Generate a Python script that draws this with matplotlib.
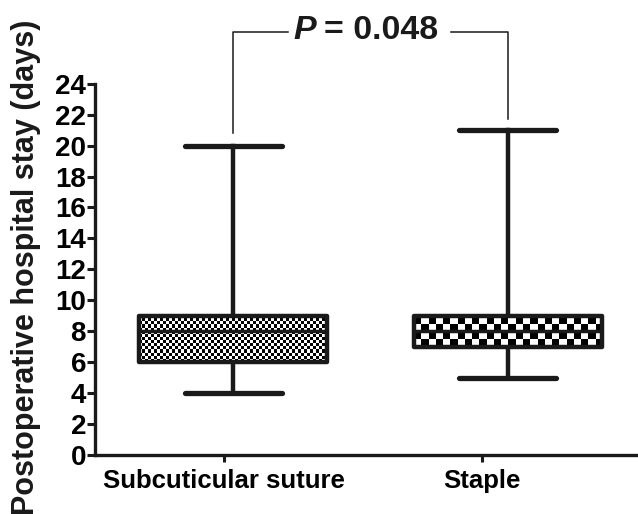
import matplotlib.pyplot as plt
import numpy as np

# Box plot summary values (days)
groups = ["Subcuticular suture", "Staple"]
q1 = [6, 7]
median = [8, 8]
q3 = [9, 9]
whisker_low = [4, 5]
whisker_high = [20, 21]
p_label = "0.048"
yticks = list(range(0, 25, 2))

plt.rcParams["font.family"] = ["Liberation Sans", "DejaVu Sans"]
plt.rcParams["font.weight"] = "bold"
ink = "#1a1a1a"

fig = plt.figure(figsize=(6.38, 5.14), dpi=100)
ax = fig.add_axes([0.149, 0.115, 0.851, 0.722])

positions = [1, 2]
stats = []
for i, g in enumerate(groups):
    stats.append(dict(label=g, q1=q1[i], med=median[i], q3=q3[i],
                      whislo=whisker_low[i], whishi=whisker_high[i], fliers=[]))

bp = ax.bxp(stats, positions=positions, widths=0.687, capwidths=0.353,
            patch_artist=True, showfliers=False,
            boxprops=dict(facecolor="white", edgecolor=ink, linewidth=3.2,
                          joinstyle="round", zorder=3),
            whiskerprops=dict(color=ink, linewidth=3.2, zorder=2),
            capprops=dict(color=ink, linewidth=3.8, solid_capstyle="round"),
            medianprops=dict(color=ink, linewidth=2.5, zorder=5))

# checker textures inside the boxes (fine for suture, coarse for staple)
cells_per_unit = [(92, 5), (38, 2)]
for i, patch in enumerate(bp["boxes"]):
    cx, cy = cells_per_unit[i]
    w = 0.687
    ncols = int(round(w * cx))
    nrows = int(round((q3[i] - q1[i]) * cy))
    checker = np.add.outer(np.arange(nrows), np.arange(ncols)) % 2
    im = ax.imshow(checker, cmap="gray", interpolation="nearest", aspect="auto",
                   extent=[positions[i] - w / 2, positions[i] + w / 2, q1[i], q3[i]],
                   zorder=4)
    im.set_clip_path(patch)
    patch.set_facecolor("none")
    patch.set_zorder(6)

ax.set_xlim(0.498, 2.473)
ax.set_ylim(0, 24)
ax.set_yticks(yticks)
ax.set_xticks([0.967, 1.905])
ax.set_xticklabels(groups, fontsize=18.5, fontweight="bold")
ax.tick_params(axis="y", labelsize=20, width=2.2, length=6, pad=0.5, color=ink)
ax.tick_params(axis="x", width=2.2, length=5, pad=5, color=ink)
for s in ["top", "right"]:
    ax.spines[s].set_visible(False)
for s in ["left", "bottom"]:
    ax.spines[s].set_linewidth(2.4)
    ax.spines[s].set_color(ink)

fig.text(0.041, 0.479, "Postoperative hospital stay (days)", rotation=90,
         ha="center", va="center", fontsize=22, fontweight="bold", color=ink)

# significance bracket
ax.plot([1.0, 1.0, 1.2], [20.8, 27.37, 27.37], color=ink, lw=1.1, clip_on=False)
ax.plot([1.793, 2.0, 2.0], [27.37, 27.37, 21.7], color=ink, lw=1.1, clip_on=False)
ax.text(1.302, 26.9, "P", style="italic", fontsize=24.5, fontweight="bold",
        ha="right", va="baseline", color=ink, clip_on=False)
ax.text(1.331, 26.9, "= " + p_label, fontsize=24.5, fontweight="bold",
        ha="left", va="baseline", color=ink, clip_on=False)

fig.savefig("out.png", dpi=100)
